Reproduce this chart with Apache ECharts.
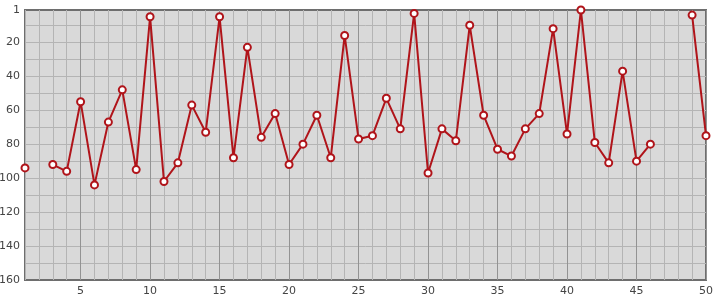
<!DOCTYPE html>
<html><head><meta charset="utf-8">
<script src="https://cdn.jsdelivr.net/npm/echarts@6/dist/echarts.min.js"></script>
<style>html,body{margin:0;padding:0;background:#fff}#c{width:715px;height:300px}</style>
</head><body><div id="c"></div>
<script>
const xValues = [1,2,3,4,5,6,7,8,9,10,11,12,13,14,15,16,17,18,19,20,21,22,23,24,25,26,27,28,29,30,31,32,33,34,35,36,37,38,39,40,41,42,43,44,45,46,47,48,49,50];
const yValues = [94,null,92,96,55,104,67,48,95,5,102,91,57,73,5,88,23,76,62,92,80,63,88,16,77,75,53,71,3,97,71,78,10,63,83,87,71,62,12,74,1,79,91,37,90,80,null,null,4,75];
const yTickLabels = [1,20,40,60,80,100,120,140,160];
const yGridValues = [10,20,30,40,50,60,70,80,90,100,110,120,130,140,150];

const chart = echarts.init(document.getElementById('c'), null, {renderer:'canvas'});
const data = xValues.map((x,i)=>[x, yValues[i]]);
const lab = {color:'#444', fontSize:11, fontFamily:'DejaVu Sans'};
chart.setOption({
  animation:false,
  grid:{left:25,right:9,top:10,bottom:20,containLabel:false,outerBoundsMode:'none',show:true,backgroundColor:'#d9d9d9',borderColor:'#6e6e6e',borderWidth:2},
  xAxis:{type:'value',min:1,max:50,interval:1,
    axisLine:{show:false},axisTick:{show:false},
    axisLabel:Object.assign({},lab,{margin:6,formatter:v=>(v%5===0?String(v):'')}),
    splitLine:{show:true,lineStyle:{width:1,color:['#b4b4b4','#b4b4b4','#b4b4b4','#b4b4b4','#939393']}}},
  yAxis:{type:'value',min:1,max:160,inverse:true,
    axisLine:{show:false},
    axisTick:{show:false,customValues:yGridValues},
    axisLabel:Object.assign({},lab,{margin:5,customValues:yTickLabels}),
    splitLine:{show:true,lineStyle:{width:1,color:'#b4b4b4'}}},
  series:[{type:'line',data:data,connectNulls:false,
    lineStyle:{color:'#b0141a',width:2},
    symbol:'circle',symbolSize:7,showSymbol:true,
    itemStyle:{color:'#ffffff',borderColor:'#b0141a',borderWidth:2}}]
});
</script></body></html>
